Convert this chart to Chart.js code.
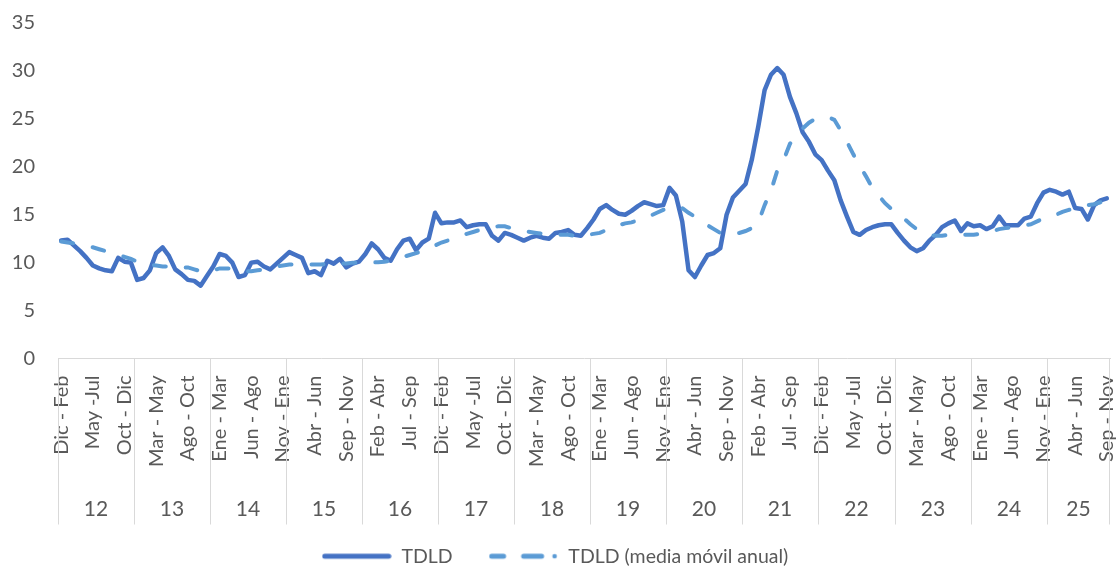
<!DOCTYPE html>
<html>
<head>
<meta charset="utf-8">
<script src="https://cdn.jsdelivr.net/npm/chart.js@4.4.1/dist/chart.umd.min.js"></script>
<style>
  html, body { margin: 0; padding: 0; background: #fff; }
  #wrap { width: 1118px; height: 569px; position: relative; }
</style>
</head>
<body>
<div id="wrap"><canvas id="myChart"></canvas></div>
<script>
// categories
const years = ['12', '13', '14', '15', '16', '17', '18', '19', '20', '21', '22', '23', '24', '25'];
const quarters = ['Dic - Feb', 'Ene - Mar', 'Feb - Abr', 'Mar - May', 'Abr - Jun', 'May -Jul',
  'Jun - Ago', 'Jul - Sep', 'Ago - Oct', 'Sep - Nov', 'Oct - Dic', 'Nov - Ene'];
const lastYearMonths = 10;
const labelEvery = 5;

// series values
const tdld = [
  12.3, 12.4, 11.8, 11.2, 10.5, 9.7, 9.4, 9.2, 9.1, 10.5, 10.1, 10.0,
  8.2, 8.4, 9.2, 11.0, 11.6, 10.7, 9.3, 8.8, 8.2, 8.1, 7.6, 8.6,
  9.6, 10.9, 10.7, 10.0, 8.5, 8.7, 10.0, 10.1, 9.6, 9.3, 9.9, 10.5,
  11.1, 10.8, 10.5, 8.9, 9.1, 8.7, 10.2, 9.9, 10.4, 9.5, 9.9, 10.1,
  10.9, 12.0, 11.4, 10.5, 10.2, 11.4, 12.3, 12.5, 11.3, 12.1, 12.5, 15.2,
  14.1, 14.2, 14.2, 14.4, 13.7, 13.9, 14.0, 14.0, 12.8, 12.3, 13.1, 12.9,
  12.6, 12.3, 12.6, 12.8, 12.6, 12.5, 13.1, 13.2, 13.4, 12.9, 12.8, 13.6,
  14.5, 15.6, 16.0, 15.5, 15.1, 15.0, 15.4, 15.9, 16.3, 16.1, 15.9, 16.0,
  17.8, 17.0, 14.3, 9.2, 8.5, 9.7, 10.8, 11.0, 11.5, 15.0, 16.8, 17.5,
  18.2, 20.8, 24.2, 28.0, 29.6, 30.3, 29.6, 27.3, 25.6, 23.6, 22.6, 21.3,
  20.7, 19.6, 18.6, 16.5, 14.8, 13.2, 12.9, 13.4, 13.7, 13.9, 14.0, 14.0,
  13.1, 12.3, 11.6, 11.2, 11.5, 12.3, 12.9, 13.7, 14.1, 14.4, 13.3, 14.1,
  13.8, 13.9, 13.5, 13.8, 14.8, 13.9, 13.9, 13.9, 14.6, 14.8, 16.2, 17.3,
  17.6, 17.4, 17.1, 17.4, 15.7, 15.6, 14.5, 16.0, 16.5, 16.7
];
const tdldMedia = [
  12.2, 12.1, 12.0, 11.9, 11.7, 11.6, 11.4, 11.2, 11.0, 10.8, 10.6, 10.4,
  10.1, 9.9, 9.8, 9.7, 9.6, 9.6, 9.6, 9.5, 9.5, 9.3, 9.1, 9.0,
  9.2, 9.4, 9.4, 9.4, 9.2, 9.1, 9.1, 9.2, 9.3, 9.4, 9.6, 9.7,
  9.8, 9.8, 9.8, 9.8, 9.8, 9.8, 9.9, 9.9, 9.9, 9.9, 10.0, 10.0,
  10.0, 10.0, 10.05, 10.1, 10.2, 10.3, 10.6, 10.8, 11.0, 11.2, 11.5, 11.8,
  12.1, 12.3, 12.5, 12.8, 13.0, 13.2, 13.4, 13.6, 13.7, 13.8, 13.8, 13.6,
  13.4, 13.3, 13.2, 13.1, 13.0, 12.9, 12.9, 12.9, 12.9, 12.8, 12.7, 12.9,
  13.0, 13.1, 13.4, 13.7, 13.9, 14.1, 14.2, 14.4, 14.7, 14.9, 15.2, 15.5,
  15.7, 15.9, 15.7, 15.2, 14.8, 14.3, 13.9, 13.5, 13.1, 13.0, 13.0, 13.1,
  13.3, 13.6, 14.2, 16.0, 17.5, 19.6, 20.7, 22.4, 23.3, 24.0, 24.6, 25.0,
  25.1, 25.2, 24.9, 23.8, 22.6, 21.3, 20.1, 19.0, 17.8, 17.0, 16.2, 15.6,
  15.1, 14.6, 14.0, 13.5, 13.1, 12.9, 12.8, 12.8, 12.9, 13.0, 12.9, 12.9,
  12.9, 13.0, 13.1, 13.3, 13.5, 13.6, 13.7, 13.8, 13.9, 14.0, 14.3, 14.6,
  14.8, 15.0, 15.3, 15.5, 15.7, 15.9, 16.0, 16.1, 16.3, 16.4
];

// build the category list
let labels = [];
let yearStart = [];
for (let y = 0; y < years.length; y++) {
  yearStart.push(labels.length);
  let n = y === years.length - 1 ? lastYearMonths : quarters.length;
  for (let m = 0; m < n; m++) {
    labels.push(quarters[m]);
  }
}

const FONT = "Lato, 'Open Sans', sans-serif";
const TEXT = '#595959';
const SOLID = '#4472C4';
const DASHED = '#5B9BD5';

// legend samples, drawn like the Excel ones
function legendSample(color, dashed) {
  let c = document.createElement('canvas');
  c.width = 70;
  c.height = 8;
  let g = c.getContext('2d');
  g.strokeStyle = color;
  g.fillStyle = color;
  g.lineWidth = 5;
  g.lineCap = 'round';
  g.beginPath();
  if (dashed) {
    g.moveTo(3, 4); g.lineTo(15, 4);
    g.moveTo(35, 4); g.lineTo(53, 4);
    g.stroke();
    g.beginPath();
    g.arc(66, 4, 2.3, 0, Math.PI * 2);
    g.fill();
  } else {
    g.moveTo(3, 4); g.lineTo(67, 4);
    g.stroke();
  }
  return c;
}

// second level of the category axis: year groups
const yearGroups = {
  id: 'yearGroups',
  afterDraw(chart) {
    const x = chart.scales.x;
    const ctx = chart.ctx;
    const half = (x.getPixelForValue(1) - x.getPixelForValue(0)) / 2;
    const top = x.top;
    const bottom = x.top + 166;
    ctx.save();
    ctx.strokeStyle = '#d9d9d9';
    ctx.lineWidth = 1;
    ctx.fillStyle = TEXT;
    ctx.font = '21px ' + FONT;
    ctx.textAlign = 'center';
    ctx.textBaseline = 'middle';
    for (let i = 0; i < years.length; i++) {
      let first = yearStart[i];
      let last = i < years.length - 1 ? yearStart[i + 1] - 1 : labels.length - 1;
      let left = Math.round(x.getPixelForValue(first) - half) + 0.5;
      let right = Math.round(x.getPixelForValue(last) + half) - 0.5;
      ctx.beginPath();
      ctx.moveTo(left, top);
      ctx.lineTo(left, bottom);
      if (i === years.length - 1) {
        ctx.moveTo(right, top);
        ctx.lineTo(right, bottom);
      }
      ctx.stroke();
      ctx.fillText(years[i], (left + right) / 2, top + 151);
    }
    ctx.restore();
  }
};

const data = {
  labels,
  datasets: [
    {
      label: 'TDLD',
      data: tdld,
      borderColor: SOLID,
      backgroundColor: SOLID,
      borderWidth: 4.5,
      pointRadius: 0,
      pointStyle: legendSample(SOLID, false),
      tension: 0,
      borderJoinStyle: 'round',
      borderCapStyle: 'round',
      order: 1,
    },
    {
      label: 'TDLD (media móvil anual)',
      data: tdldMedia,
      borderColor: DASHED,
      backgroundColor: DASHED,
      borderWidth: 4,
      borderDash: [12, 20],
      borderCapStyle: 'round',
      pointRadius: 0,
      pointStyle: legendSample(DASHED, true),
      tension: 0,
      order: 0,
    },
  ],
};

const config = {
  type: 'line',
  data,
  plugins: [yearGroups],
  options: {
    responsive: true,
    maintainAspectRatio: false,
    animation: false,
    layout: { padding: { top: 23, right: 8, left: 0, bottom: -7 } },
    plugins: {
      tooltip: { enabled: false },
      legend: {
        position: 'bottom',
        labels: {
          usePointStyle: true,
          pointStyleWidth: 70,
          padding: 36,
          color: TEXT,
          font: { family: FONT, size: 19.5 },
          sort: (a, b) => a.datasetIndex - b.datasetIndex,
        },
      },
    },
    scales: {
      x: {
        type: 'category',
        offset: true,
        grid: { display: false, drawTicks: false },
        border: { display: true, color: '#d9d9d9', width: 1 },
        ticks: {
          autoSkip: false,
          maxRotation: 90,
          minRotation: 90,
          padding: 17,
          color: TEXT,
          font: { family: FONT, size: 20 },
          callback: function (value, index) {
            return index % labelEvery === 0 ? labels[index] : '';
          },
        },
        afterFit: (scale) => {
          scale.height = 152;
          scale.paddingLeft = 0;
          scale.paddingRight = 0;
        },
      },
      y: {
        min: 0,
        max: 35,
        grid: { display: false, drawTicks: false },
        border: { display: false },
        ticks: {
          stepSize: 5,
          padding: 23,
          color: TEXT,
          font: { family: FONT, size: 20 },
        },
        afterFit: (scale) => {
          scale.width = 58;
          scale.paddingTop = 0;
          scale.paddingBottom = 0;
        },
      },
    },
  },
};

const myChart = new Chart(document.getElementById('myChart'), config);
</script>
</body>
</html>
